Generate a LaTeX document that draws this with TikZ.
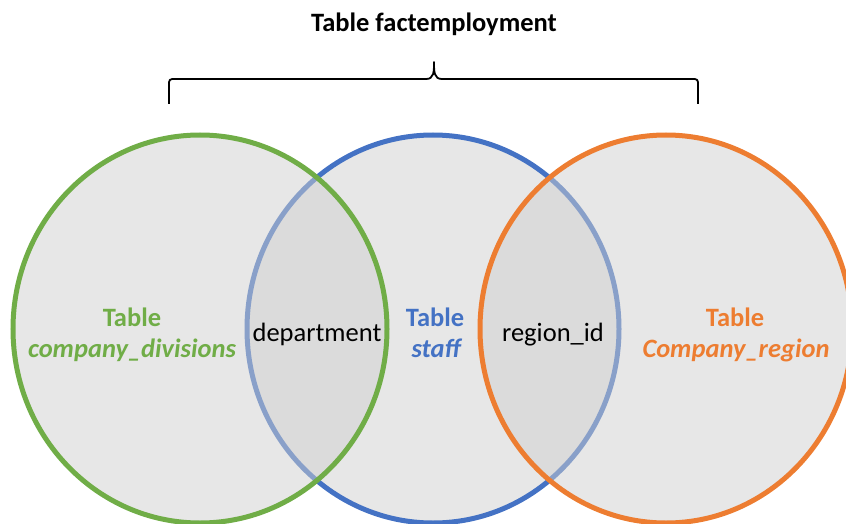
\documentclass[tikz,border=0pt]{standalone}
\usepackage{fontspec}
\setmainfont{Carlito}
\usepackage{xcolor}
\usepackage{tikz}
\definecolor{divgreen}{HTML}{70AD47}
\definecolor{staffblue}{HTML}{4472C4}
\definecolor{regorange}{HTML}{ED7D31}
\definecolor{setgray}{HTML}{CFCFCF}

\begin{document}
\begin{tikzpicture}[x=1pt,y=-1pt,
  set/.style={line width=5pt,fill=setgray,fill opacity=0.5},
  label node/.style={anchor=base,inner sep=0pt,font=\fontsize{26.5}{28}\selectfont},
  table name/.style={label node,font=\fontsize{26.5}{28}\selectfont\bfseries},
  brace line/.style={line width=1.8pt,line join=round}]

  \useasboundingbox (0,0) rectangle (846,524);

  % the staff set goes first, so the other two fills wash over its rim
  \draw[set,draw=staffblue] (433,329) ellipse [x radius=186pt,y radius=194pt];
  \draw[set,draw=divgreen] (200,329) ellipse [x radius=187pt,y radius=194pt];
  \draw[set,draw=regorange] (666,329) ellipse [x radius=186pt,y radius=194pt];

  % heading and brace
  \node[table name] (fact) at (434,32) {Table factemployment};
  \coordinate (brace left) at (169,104);
  \coordinate (brace right) at (698,104);
  \coordinate (brace tip) at (434,62);
  \draw[brace line] (brace left) -- (169,86) .. controls (169,79) .. (176,79)
    -- (426,79) .. controls (434,79) and (434,72) .. (brace tip)
    .. controls (434,72) and (434,79) .. (442,79)
    -- (691,79) .. controls (698,79) .. (698,86) -- (brace right);

  % tables
  \node[table name,text=divgreen] (divT) at (132,326) {Table};
  \node[table name,text=divgreen] (divN) at (132,357) {\itshape company\_divisions};
  \node[table name,text=staffblue] (staffT) at (435,326) {Table};
  \node[table name,text=staffblue] (staffN) at (436,357) {\itshape staff};
  \node[table name,text=regorange] (regT) at (735,326) {Table};
  \node[table name,text=regorange] (regN) at (736,357) {\itshape Company\_region};

  % join keys
  \node[label node] (dept) at (317,341) {department};
  \node[label node] (regid) at (553,341) {region\_id};
\end{tikzpicture}
\end{document}
